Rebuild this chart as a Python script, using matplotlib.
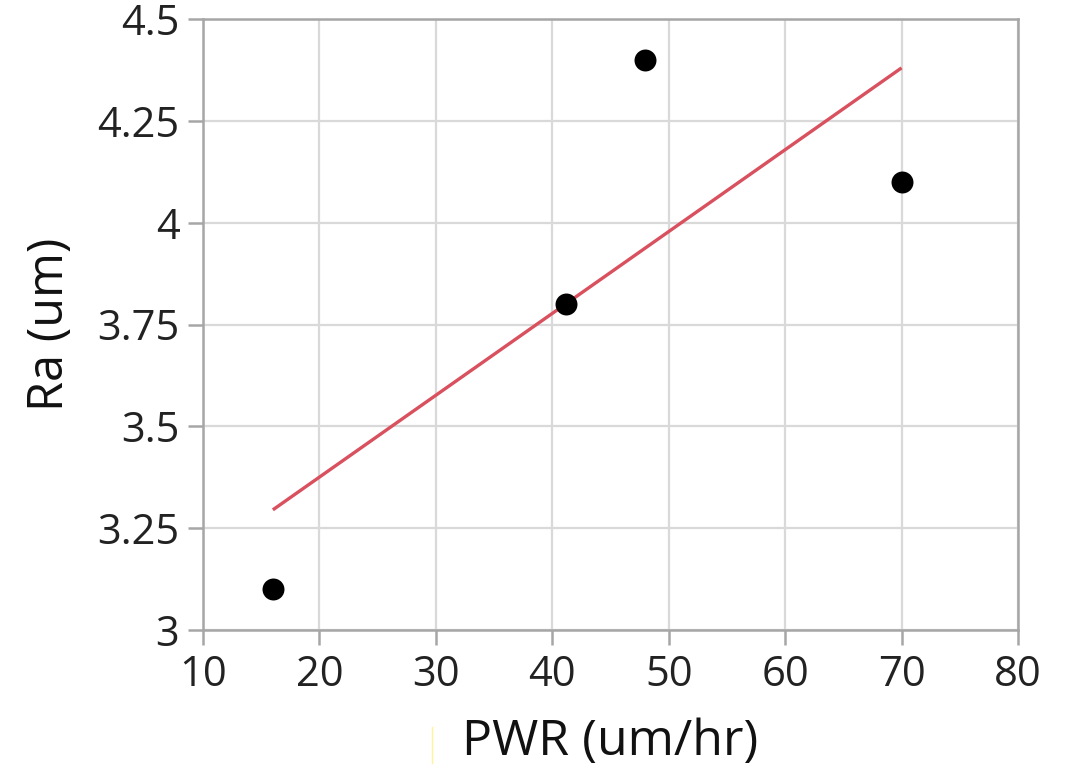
import matplotlib
matplotlib.use("Agg")
import matplotlib.pyplot as plt
from matplotlib.lines import Line2D

# Data
pwr = [16, 41.2, 48, 70]
ra = [3.1, 3.8, 4.4, 4.1]
fit_x = [16, 70]
fit_y = [3.295, 4.38]
x_ticks = [10, 20, 30, 40, 50, 60, 70, 80]
y_ticks = [3, 3.25, 3.5, 3.75, 4, 4.25, 4.5]
y_tick_labels = ["3", "3.25", "3.5", "3.75", "4", "4.25", "4.5"]

plt.rcParams['font.family'] = ['Open Sans', 'DejaVu Sans']

fig = plt.figure(figsize=(10.68, 7.72), dpi=100)
ax = fig.add_axes([203/1068, 1 - 630/772, (1018-203)/1068, (630-19)/772])

ax.plot(fit_x, fit_y, color='#d9505e', lw=2.4, zorder=3, solid_capstyle='butt')
ax.scatter(pwr, ra, s=250, color='black', zorder=4, linewidths=0)

ax.set_xlim(10, 80)
ax.set_ylim(3, 4.5)
ax.set_xticks(x_ticks)
ax.set_yticks(y_ticks)
ax.set_yticklabels(y_tick_labels)
ax.grid(True, color='#d9d9d9', lw=1.6, zorder=0)
ax.set_axisbelow(True)

for s in ax.spines.values():
    s.set_color('#a6a6a6')
    s.set_linewidth(1.8)

ax.tick_params(axis='both', direction='out', length=11, width=1.8, color='#a6a6a6',
               labelsize=30, labelcolor='#222222', pad=6)

ax.set_xlabel('PWR (um/hr)', fontsize=36, color='#111111', labelpad=16)
ax.set_ylabel('Ra (um)', fontsize=35, color='#111111', labelpad=16)

fig.add_artist(Line2D([432/1068, 432/1068], [1 - 727/772, 1 - 763/772],
                      color='#fff3a0', lw=1, transform=fig.transFigure))

fig.savefig('out.png', dpi=100)
